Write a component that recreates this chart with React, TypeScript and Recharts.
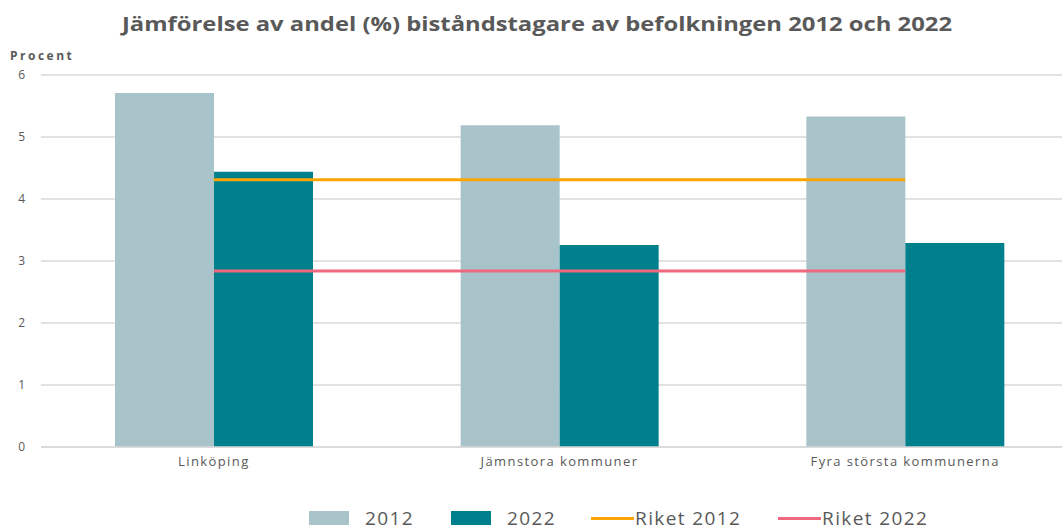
import {
  Bar,
  CartesianGrid,
  ComposedChart,
  Line,
  XAxis,
  YAxis
} from "recharts";

const categories = ["Linköping", "Jämnstora kommuner", "Fyra största kommunerna"];
const share2012 = [5.71, 5.19, 5.33];
const share2022 = [4.44, 3.26, 3.29];
const riket2012 = [4.31, 4.31, 4.31];
const riket2022 = [2.84, 2.84, 2.84];
const yTicks = [0, 1, 2, 3, 4, 5, 6];

const COLOR_2012 = "#a8c4ca";
const COLOR_2022 = "#00808c";
const COLOR_RIKET_2012 = "#ffa500";
const COLOR_RIKET_2022 = "#f0687f";
const TEXT = "#595959";
const GRID = "#d9d9d9";
const FONT = "'Open Sans', sans-serif";

const data = categories.map((name, i) => ({
  name,
  y2012: share2012[i],
  y2022: share2022[i],
  r2012: riket2012[i],
  r2022: riket2022[i]
}));

// legend entries, left edge of each swatch
const legendItems = [
  { label: "2012", color: COLOR_2012, kind: "box", left: 309 },
  { label: "2022", color: COLOR_2022, kind: "box", left: 451 },
  { label: "Riket 2012", color: COLOR_RIKET_2012, kind: "line", left: 591 },
  { label: "Riket 2022", color: COLOR_RIKET_2022, kind: "line", left: 778 }
];

export default function App() {
  return (
    <div
      style={{
        position: "absolute",
        left: 0,
        top: 0,
        width: 1062,
        height: 531,
        overflow: "hidden",
        background: "#fff",
        fontFamily: FONT
      }}
    >
      <div
        style={{
          position: "absolute",
          left: 0,
          width: 1074,
          top: 10,
          textAlign: "center",
          fontSize: 20,
          fontWeight: 700,
          color: TEXT,
          whiteSpace: "nowrap",
          transform: "scaleX(1.19)",
          transformOrigin: "537px 0"
        }}
      >
        Jämförelse av andel (%) biståndstagare av befolkningen 2012 och 2022
      </div>
      <div
        style={{
          position: "absolute",
          left: 10,
          top: 47,
          fontSize: 12,
          fontWeight: 700,
          color: TEXT,
          letterSpacing: 2.5
        }}
      >
        Procent
      </div>

      <ComposedChart
        width={1078}
        height={531}
        data={data}
        margin={{ top: 75, right: 0, left: 0, bottom: 54 }}
        barGap={0}
        barSize={99}
      >
        <CartesianGrid vertical={false} stroke={GRID} strokeWidth={1.5} />
        <XAxis
          dataKey="name"
          height={30}
          axisLine={{ stroke: GRID, strokeWidth: 1.5 }}
          tickLine={false}
          tickSize={0}
          tickMargin={10}
          tick={{ fill: TEXT, fontSize: 13, fontFamily: FONT, letterSpacing: 1.4 }}
          interval={0}
        />
        <YAxis
          width={41}
          domain={[0, 6]}
          ticks={yTicks}
          axisLine={false}
          tickLine={false}
          tickSize={0}
          tickMargin={16}
          tick={{ fill: TEXT, fontSize: 12, fontFamily: FONT }}
        />
        <Bar dataKey="y2012" fill={COLOR_2012} isAnimationActive={false} />
        <Bar dataKey="y2022" fill={COLOR_2022} isAnimationActive={false} />
        <Line
          type="linear"
          dataKey="r2012"
          stroke={COLOR_RIKET_2012}
          strokeWidth={3}
          dot={false}
          activeDot={false}
          isAnimationActive={false}
        />
        <Line
          type="linear"
          dataKey="r2022"
          stroke={COLOR_RIKET_2022}
          strokeWidth={3}
          dot={false}
          activeDot={false}
          isAnimationActive={false}
        />
      </ComposedChart>

      {legendItems.map((item) => (
        <div
          key={item.label}
          style={{
            position: "absolute",
            left: item.left,
            top: 506,
            height: 24,
            display: "flex",
            alignItems: "center",
            fontSize: 19,
            letterSpacing: 1.4,
            color: TEXT,
            whiteSpace: "nowrap"
          }}
        >
          {item.kind === "box" ? (
            <span
              style={{
                display: "inline-block",
                width: 40,
                height: 14,
                background: item.color,
                marginRight: 16
              }}
            />
          ) : (
            <span
              style={{
                display: "inline-block",
                width: 43,
                height: 3,
                background: item.color,
                marginRight: 1
              }}
            />
          )}
          <span>{item.label}</span>
        </div>
      ))}
    </div>
  );
}
